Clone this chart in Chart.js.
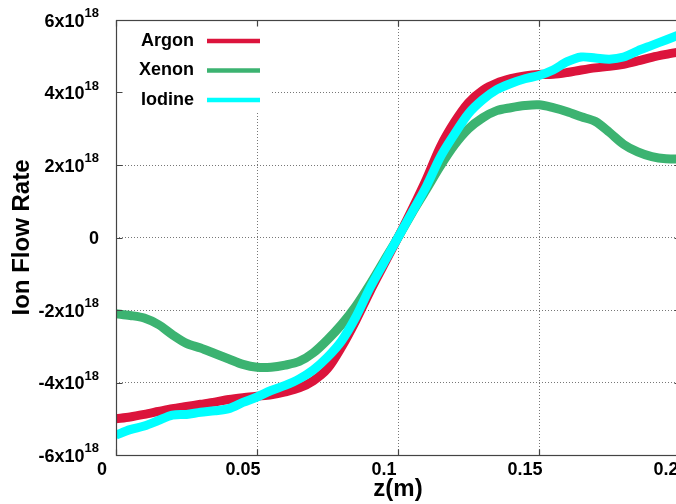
<!DOCTYPE html>
<html>
<head>
<meta charset="utf-8">
<script src="https://cdn.jsdelivr.net/npm/chart.js@4.4.1/dist/chart.umd.min.js"></script>
<style>
    html, body { margin: 0; padding: 0; background: #fff; overflow: hidden; }
    #wrap { width: 700px; height: 504px; }
</style>
</head>
<body>
<div id="wrap"><canvas id="flow" width="700" height="504"></canvas></div>
<script>
// z positions (m)
var zValues = [0, 0.005, 0.01, 0.015, 0.02, 0.025, 0.03, 0.035, 0.04, 0.045,
    0.05, 0.055, 0.06, 0.065, 0.07, 0.075, 0.08, 0.085, 0.09, 0.095,
    0.1, 0.105, 0.11, 0.115, 0.12, 0.125, 0.13, 0.135, 0.14, 0.145,
    0.15, 0.155, 0.16, 0.165, 0.17, 0.175, 0.18, 0.185, 0.19, 0.195, 0.2];

// ion flow rate, in units of 1e18
var argon = [-5.0, -4.95, -4.88, -4.8, -4.72, -4.66, -4.6, -4.54, -4.47, -4.42,
    -4.38, -4.34, -4.26, -4.15, -3.95, -3.62, -3.02, -2.3, -1.5, -0.75,
    0, 0.78, 1.6, 2.5, 3.18, 3.72, 4.06, 4.26, 4.38, 4.46,
    4.5, 4.5, 4.55, 4.62, 4.68, 4.72, 4.78, 4.87, 4.97, 5.05, 5.12];
var xenon = [-2.1, -2.15, -2.22, -2.4, -2.68, -2.92, -3.05, -3.2, -3.35, -3.5,
    -3.58, -3.58, -3.52, -3.42, -3.18, -2.82, -2.4, -1.9, -1.3, -0.65,
    0, 0.68, 1.32, 1.97, 2.55, 3.0, 3.3, 3.5, 3.58, 3.64,
    3.66, 3.58, 3.47, 3.33, 3.2, 2.9, 2.57, 2.36, 2.23, 2.17, 2.17];
var iodine = [-5.45, -5.3, -5.2, -5.05, -4.9, -4.88, -4.82, -4.78, -4.72, -4.55,
    -4.4, -4.22, -4.08, -3.9, -3.65, -3.3, -2.85, -2.2, -1.4, -0.7,
    0, 0.7, 1.4, 2.22, 2.85, 3.42, 3.8, 4.08, 4.25, 4.38,
    4.47, 4.62, 4.85, 4.98, 4.95, 4.92, 4.98, 5.15, 5.3, 5.45, 5.6];

var seriesNames = ["Argon", "Xenon", "Iodine"];
var seriesColors = ["#dc143c", "#3cb371", "#00ffff"];

// y tick labels: mantissa and exponent
var yTickValues = [-6, -4, -2, 0, 2, 4, 6];
var yTickText = ["-6x10", "-4x10", "-2x10", "0", "2x10", "4x10", "6x10"];
var yTickExp = ["18", "18", "18", "", "18", "18", "18"];

var FONT = '"Liberation Sans", Arial, sans-serif';

function toPoints(vals) {
    return vals.map(function (v, i) { return {x: zValues[i], y: v}; });
}

var gnuFrame = {
    id: 'gnuFrame',
    beforeDatasetsDraw: function (chart) {
        var ctx = chart.ctx, a = chart.chartArea;
        // key box, covers the grid
        ctx.save();
        ctx.fillStyle = '#fff';
        ctx.fillRect(a.left + 1, a.top + 1, 154, 92);
        ctx.font = 'bold 18px ' + FONT;
        ctx.textAlign = 'right';
        ctx.textBaseline = 'middle';
        chart.data.datasets.forEach(function (ds, i) {
            var y = a.top + 21 + i * 29.5;
            ctx.fillStyle = '#000';
            ctx.fillText(ds.label, a.left + 78, y);
            ctx.strokeStyle = ds.borderColor;
            ctx.lineWidth = 4.5;
            ctx.beginPath();
            ctx.moveTo(a.left + 91, y);
            ctx.lineTo(a.left + 144, y);
            ctx.stroke();
        });
        ctx.restore();
    },
    afterDraw: function (chart) {
        var ctx = chart.ctx, a = chart.chartArea;
        var xs = chart.scales.x, ys = chart.scales.y;
        var l = Math.round(a.left) + 0.5, r = Math.round(a.right) + 0.5;
        var t = Math.round(a.top) + 0.5, b = Math.round(a.bottom) + 0.5;
        ctx.save();
        ctx.strokeStyle = '#444';
        ctx.lineWidth = 1.2;
        ctx.strokeRect(l, t, r - l, b - t);
        // inward tick marks
        ctx.beginPath();
        xs.ticks.forEach(function (tk) {
            var px = Math.round(xs.getPixelForValue(tk.value)) + 0.5;
            ctx.moveTo(px, b); ctx.lineTo(px, b - 6);
            ctx.moveTo(px, t); ctx.lineTo(px, t + 6);
        });
        yTickValues.forEach(function (v) {
            var py = Math.round(ys.getPixelForValue(v)) + 0.5;
            ctx.moveTo(l, py); ctx.lineTo(l + 6, py);
            ctx.moveTo(r, py); ctx.lineTo(r - 6, py);
        });
        ctx.stroke();
        // y tick labels with superscript exponent
        ctx.fillStyle = '#000';
        ctx.textAlign = 'right';
        ctx.textBaseline = 'alphabetic';
        var xRight = a.left - 17;
        yTickValues.forEach(function (v, i) {
            var py = ys.getPixelForValue(v);
            var supW = 0;
            if (yTickExp[i]) {
                ctx.font = 'bold 13px ' + FONT;
                supW = ctx.measureText(yTickExp[i]).width;
                ctx.fillText(yTickExp[i], xRight, py - 3);
            }
            ctx.font = 'bold 18px ' + FONT;
            ctx.fillText(yTickText[i], xRight - supW, py + 6.5);
        });
        ctx.restore();
    }
};

var flowChart = new Chart(document.getElementById('flow'), {
    type: 'line',
    data: {
        datasets: [
            {label: seriesNames[0], data: toPoints(argon), borderColor: seriesColors[0], order: 2},
            {label: seriesNames[1], data: toPoints(xenon), borderColor: seriesColors[1], order: 1},
            {label: seriesNames[2], data: toPoints(iodine), borderColor: seriesColors[2], order: 0}
        ]
    },
    options: {
        responsive: false,
        animation: false,
        devicePixelRatio: 1,
        layout: {padding: {top: 20, right: 20, left: 0, bottom: 0}},
        elements: {
            line: {borderWidth: 9, tension: 0.3, fill: false},
            point: {radius: 0}
        },
        plugins: {legend: {display: false}, tooltip: {enabled: false}},
        scales: {
            x: {
                type: 'linear',
                min: 0,
                max: 0.2,
                afterFit: function (s) { s.height = 49; },
                grid: {color: '#777', lineWidth: 1, drawTicks: false},
                border: {display: false, dash: [1, 2]},
                ticks: {
                    stepSize: 0.05,
                    padding: 4,
                    labelOffset: -14,
                    color: '#000',
                    font: {family: FONT, size: 18, weight: 'bold'},
                    callback: function (v) { return String(parseFloat(v.toFixed(2))); }
                },
                title: {
                    display: true,
                    text: 'z(m)',
                    color: '#000',
                    padding: {top: 4, bottom: 0},
                    font: {family: FONT, size: 24, weight: 'bold'}
                }
            },
            y: {
                min: -6,
                max: 6,
                afterFit: function (s) { s.width = 116; },
                grid: {color: '#777', lineWidth: 1, drawTicks: false},
                border: {display: false, dash: [1, 2]},
                ticks: {stepSize: 2, display: false},
                title: {
                    display: true,
                    text: 'Ion Flow Rate',
                    color: '#000',
                    padding: {top: 8, bottom: 0},
                    font: {family: FONT, size: 24, weight: 'bold'}
                }
            }
        }
    },
    plugins: [gnuFrame]
});
</script>
</body>
</html>
